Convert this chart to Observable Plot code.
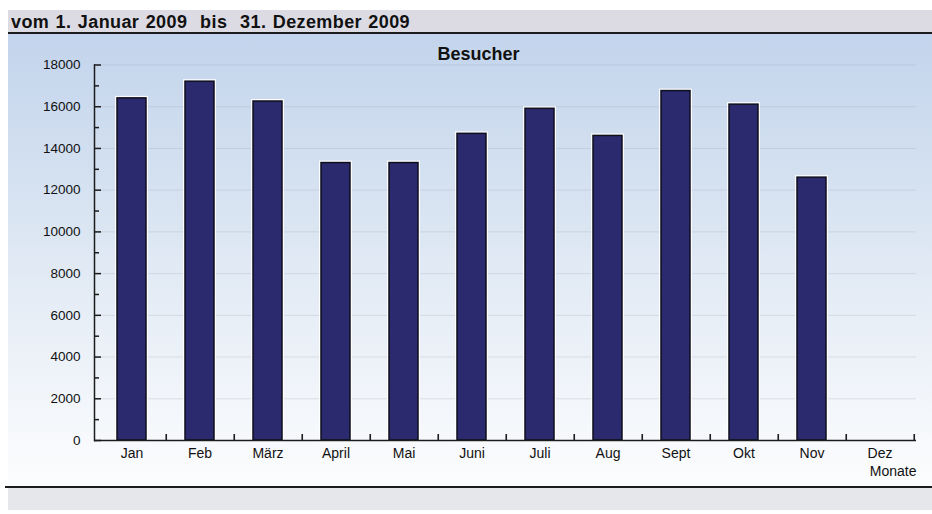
<!DOCTYPE html>
<html>
<head>
<meta charset="utf-8">
<script src="https://cdn.jsdelivr.net/npm/d3@7"></script>
<script src="https://cdn.jsdelivr.net/npm/@observablehq/plot@0.6"></script>
<style>
  html, body { margin: 0; padding: 0; background: #ffffff; }
  #page { position: relative; width: 932px; height: 514px; overflow: hidden; font-family: "Liberation Sans", Arial, sans-serif; }
  .abs { position: absolute; }
  #hdr { left: 8px; top: 10px; width: 924px; height: 22px; background: #dcdbe3; }
  #hdrText { left: 11px; top: 12px; font-weight: bold; font-size: 18px; line-height: 20px; color: #111; white-space: pre; letter-spacing: 0.4px; word-spacing: 1px; }
  #line1 { left: 8px; top: 32px; width: 924px; height: 2px; background: #1c1c1c; }
  #panel { left: 8px; top: 34px; width: 924px; height: 452px;
           background: linear-gradient(to bottom, #c3d4ec 0%, #d3e0f0 30%, #e6edf6 60%, #f7f9fc 90%, #fbfcfd 100%); }
  #line2 { left: 5px; top: 486px; width: 927px; height: 2px; background: #1c1c1c; }
  #ftr { left: 8px; top: 488px; width: 924px; height: 22px; background: #e6e7eb; }
  #chart { left: 0px; top: 34px; }
</style>
</head>
<body>
<div id="page">
  <div id="hdr" class="abs"></div>
  <div id="hdrText" class="abs">vom 1. Januar 2009  bis  31. Dezember 2009</div>
  <div id="line1" class="abs"></div>
  <div id="panel" class="abs"></div>
  <div id="line2" class="abs"></div>
  <div id="ftr" class="abs"></div>
  <div id="chart" class="abs"></div>
</div>
<script>
const months = ["Jan", "Feb", "März", "April", "Mai", "Juni", "Juli", "Aug", "Sept", "Okt", "Nov", "Dez"];
const visitors = [16400, 17200, 16250, 13300, 13300, 14700, 15900, 14600, 16750, 16100, 12600, null];
const yMajorTicks = [0, 2000, 4000, 6000, 8000, 10000, 12000, 14000, 16000, 18000];
const yMinorTicks = [1000, 3000, 5000, 7000, 9000, 11000, 13000, 15000, 17000];
const chartTitle = "Besucher";
const xAxisLabel = "Monate";

const data = months.map((m, i) => ({month: m, value: visitors[i]})).filter(d => d.value != null);

const W = 932, H = 452, mL = 94, mR = 16, mT = 30.5, mB = 46;
const halfStep = (W - mL - mR) / months.length / 2;

const chart = Plot.plot({
  width: W,
  height: H,
  marginLeft: mL,
  marginRight: mR,
  marginTop: mT,
  marginBottom: mB,
  style: {background: "transparent", color: "#111", fontFamily: "'Liberation Sans', Arial, sans-serif", overflow: "visible"},
  x: {type: "band", domain: months, paddingInner: 0.58, paddingOuter: 0.29, align: 0.5, label: null},
  y: {domain: [0, 18000], label: null},
  marks: [
    Plot.gridY(yMajorTicks, {stroke: "#8797aa", strokeOpacity: 0.22, strokeWidth: 1}),
    Plot.barY(data, {x: "month", y: "value", fill: "none", stroke: "#ffffff", strokeWidth: 4, strokeOpacity: 0.9}),
    Plot.barY(data, {x: "month", y: "value", fill: "#2c2a6f", stroke: "#0e0e1c", strokeWidth: 1.5}),
    Plot.ruleY([0], {stroke: "#1c1c1c", strokeWidth: 1.5}),
    Plot.frame({anchor: "left", stroke: "#1c1c1c", strokeWidth: 1.5}),
    Plot.axisY(yMajorTicks, {tickSize: 0, tickPadding: 14, fontSize: 13.5, fill: "#111", label: null, tickFormat: d => String(d)}),
    Plot.axisY(yMajorTicks, {tickSize: -7, tickFormat: () => "", label: null, stroke: "#1c1c1c", strokeWidth: 1.5}),
    Plot.axisY(yMinorTicks, {tickSize: -5, tickFormat: () => "", label: null, stroke: "#1c1c1c", strokeWidth: 1.5}),
    Plot.axisX({tickSize: 0, tickPadding: 8, fontSize: 14, fill: "#111", label: null}),
    Plot.axisX({tickSize: -6, dx: halfStep, tickFormat: () => "", label: null, stroke: "#1c1c1c", strokeWidth: 1.6}),
    Plot.text([xAxisLabel], {text: d => d, frameAnchor: "bottom-right", textAnchor: "end", dy: 35, fontSize: 14, letterSpacing: 1, fill: "#111"}),
    Plot.text([chartTitle], {text: d => d, frameAnchor: "top", dy: -18, dx: -27, fontSize: 18, fontWeight: "bold", letterSpacing: 1, fill: "#111"})
  ]
});
document.getElementById("chart").appendChild(chart);
</script>
</body>
</html>
